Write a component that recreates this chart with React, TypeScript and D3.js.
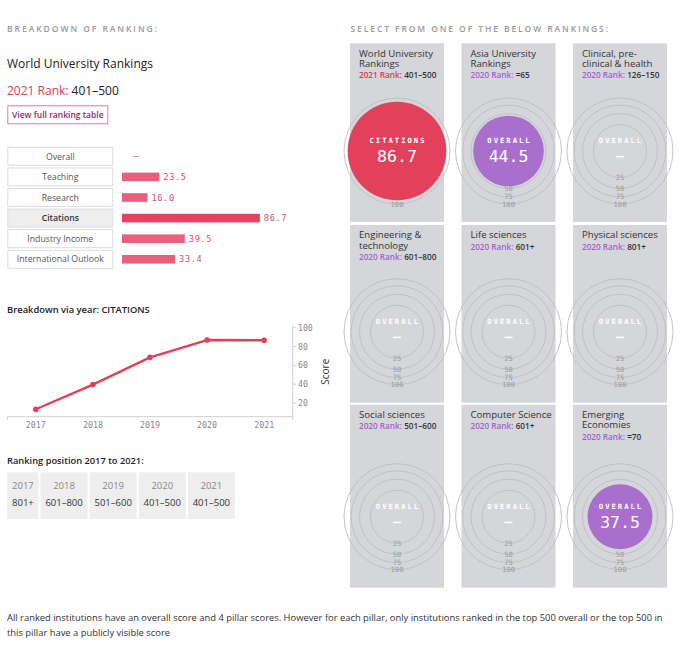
import React from 'react';
import * as d3 from 'd3';

// ---------- data ----------
const pillarNames = ['Overall', 'Teaching', 'Research', 'Citations', 'Industry Income', 'International Outlook'];
const pillarScores: (number | null)[] = [null, 23.5, 16.0, 86.7, 39.5, 33.4];
const selectedPillar = 'Citations';

const years = ['2017', '2018', '2019', '2020', '2021'];
const citationsByYear = [13.3, 39.5, 68.5, 86.9, 86.7];
const scoreTicks = [20, 40, 60, 80, 100];
const rankByYear = ['801+', '601–800', '501–600', '401–500', '401–500'];

const rankingTitles = [
  ['World University', 'Rankings'],
  ['Asia University', 'Rankings'],
  ['Clinical, pre-', 'clinical & health'],
  ['Engineering &', 'technology'],
  ['Life sciences'],
  ['Physical sciences'],
  ['Social sciences'],
  ['Computer Science'],
  ['Emerging', 'Economies'],
];
const rankingYears = ['2021', '2020', '2020', '2020', '2020', '2020', '2020', '2020', '2020'];
const rankingRanks = ['401–500', '=65', '126–150', '601–800', '601+', '801+', '501–600', '601+', '=70'];
const rankingMetrics = ['CITATIONS', 'OVERALL', 'OVERALL', 'OVERALL', 'OVERALL', 'OVERALL', 'OVERALL', 'OVERALL', 'OVERALL'];
const rankingScores: (number | null)[] = [86.7, 44.5, null, null, null, null, null, null, 37.5];
const ringLevels = [25, 50, 75, 100];

// ---------- style ----------
const SANS = "'Open Sans', sans-serif";
const MONO = "'DejaVu Sans Mono', monospace";
const RED = '#e3405b';
const PURPLE = '#a96fcd';
const PANEL = '#d4d6da';

// ---------- layout ----------
const W = 682;
const H = 645;
const rowTops = [43.3, 225, 404.7];
const rowBottoms = [222, 402.7, 587.7];

export default function App() {
  // bar chart
  const yBand = d3.scaleBand<string>().domain(pillarNames).range([147.3, 268.3]).paddingInner(0.126);
  const xBar = d3.scaleLinear().domain([0, 100]).range([122, 281]);

  // line chart
  const xLine = d3.scalePoint<string>().domain(years).range([7.3, 292.7]).padding(0.5);
  const yLine = d3.scaleLinear().domain([5.4, 100]).range([416.7, 327.7]);
  const linePath = d3
    .line<number>()
    .x((_, i) => xLine(years[i]) as number)
    .y((d) => yLine(d))(citationsByYear) as string;

  // ranking panels
  const colBand = d3.scaleBand<number>().domain([0, 1, 2]).range([350, 667]).paddingInner(0.157);
  const rScale = d3.scaleSqrt().domain([0, 100]).range([0, 53]);

  // ranking position cells
  let cx = 7.3;
  const cells = years.map((y, i) => {
    const w = Math.max(y.length, rankByYear[i].length) * 5.3 + 10;
    const c = { x: cx, w, year: y, rank: rankByYear[i] };
    cx += w + 2;
    return c;
  });

  return (
    <div style={{ position: 'absolute', left: 0, top: 0 }}>
      <svg width={W} height={H} style={{ display: 'block', background: '#fff' }}>
        {/* headers */}
        <text x={7} y={31.5} fontFamily={SANS} fontSize={8.5} fill="#999" letterSpacing={1.95} fontWeight={600}>
          BREAKDOWN OF RANKING:
        </text>
        <text x={350.5} y={31.5} fontFamily={SANS} fontSize={8.5} fill="#999" letterSpacing={1.9} fontWeight={600}>
          SELECT FROM ONE OF THE BELOW RANKINGS:
        </text>

        <text x={7} y={68.3} fontFamily={SANS} fontSize={12} fill="#222">
          World University Rankings
        </text>
        <text x={7} y={95.3} fontFamily={SANS} fontSize={12}>
          <tspan fill="#e2394f">2021 Rank:</tspan>
          <tspan fill="#222"> 401–500</tspan>
        </text>
        <rect x={7.8} y={105.8} width={100} height={18} fill="#fff" stroke="#c982a8" strokeWidth={1} />
        <text x={57.8} y={118} textAnchor="middle" fontFamily={SANS} fontSize={8.5} fontWeight={600} fill="#8c2a6c">
          View full ranking table
        </text>

        {/* bar breakdown */}
        {pillarNames.map((name, i) => {
          const y0 = yBand(name) as number;
          const bw = yBand.bandwidth();
          const cy = y0 + bw / 2;
          const v = pillarScores[i];
          const sel = name === selectedPillar;
          return (
            <g key={name}>
              <rect x={7.8} y={y0} width={105} height={bw} fill={sel ? '#eeeeee' : '#fff'} stroke="#dcdcdc" />
              <text
                x={60.3}
                y={cy + 3.2}
                textAnchor="middle"
                fontFamily={SANS}
                fontSize={8.7}
                fontWeight={sel ? 600 : 400}
                fill={sel ? '#333' : '#555'}
              >
                {name}
              </text>
              {v !== null ? (
                <>
                  <rect
                    x={xBar(0)}
                    y={cy - 4.3}
                    width={xBar(v) - xBar(0)}
                    height={8.6}
                    fill={sel ? '#e3435f' : '#e9607d'}
                  />
                  <text x={xBar(v) + 4} y={cy + 3} fontFamily={MONO} fontSize={8.7} fill="#d9506e" letterSpacing={0.6}>
                    {v.toFixed(1)}
                  </text>
                </>
              ) : (
                <text x={xBar(0) + 14} y={cy + 2.5} textAnchor="middle" fontFamily={MONO} fontSize={8} fill="#d9506e">
                  –
                </text>
              )}
            </g>
          );
        })}

        {/* line chart */}
        <text x={7} y={312.8} fontFamily={SANS} fontSize={9.4} fontWeight={600} fill="#222">
          Breakdown via year: CITATIONS
        </text>
        <line x1={7.3} x2={292.7} y1={416.7} y2={416.7} stroke="#cfcfcf" />
        <line x1={7.3} x2={7.3} y1={416.7} y2={420} stroke="#cfcfcf" />
        <line x1={292.7} x2={292.7} y1={325} y2={420} stroke="#cfcfcf" />
        {scoreTicks.map((t) => (
          <g key={t}>
            <line x1={292.7} x2={296} y1={yLine(t)} y2={yLine(t)} stroke="#cfcfcf" />
            <text x={298} y={yLine(t) + 3} fontFamily={MONO} fontSize={8.2} fill="#888">
              {t}
            </text>
          </g>
        ))}
        {years.map((y) => (
          <text key={y} x={xLine(y)} y={428.3} textAnchor="middle" fontFamily={MONO} fontSize={8.3} fill="#888">
            {y}
          </text>
        ))}
        <text
          transform="translate(325,371.7) rotate(-90)"
          textAnchor="middle"
          dy={3.5}
          fontFamily={SANS}
          fontSize={10}
          fill="#333"
        >
          Score
        </text>
        <path d={linePath} fill="none" stroke="#e0405a" strokeWidth={2.4} strokeLinejoin="round" />
        {citationsByYear.map((v, i) => (
          <circle key={i} cx={xLine(years[i])} cy={yLine(v)} r={2.8} fill="#e0405a" />
        ))}

        {/* ranking positions */}
        <text x={7} y={464} fontFamily={SANS} fontSize={9.3} fontWeight={600} fill="#222">
          Ranking position 2017 to 2021:
        </text>
        {cells.map((c, i) => (
          <g key={i}>
            <rect x={c.x} y={472.3} width={c.w} height={46.7} fill="#eeeeee" />
            <text x={c.x + c.w / 2} y={489} textAnchor="middle" fontFamily={SANS} fontSize={9.5} fill="#888">
              {c.year}
            </text>
            <text x={c.x + c.w / 2} y={506} textAnchor="middle" fontFamily={SANS} fontSize={9.5} fill="#333">
              {c.rank}
            </text>
          </g>
        ))}

        {/* ranking panels */}
        {rankingTitles.map((lines, i) => {
          const col = i % 3;
          const row = Math.floor(i / 3);
          const x0 = colBand(col) as number;
          const pw = colBand.bandwidth();
          const top = rowTops[row];
          const bottom = rowBottoms[row];
          const ccx = x0 + pw / 2;
          const ccy = bottom - 71;
          const score = rankingScores[i];
          const rankColor = i === 0 ? '#e2394f' : '#a35fcf';
          const fill = i === 0 ? RED : PURPLE;
          const lineGap = 10.2;
          const lastBase = top + 13.3 + (lines.length - 1) * lineGap;
          return (
            <g key={i}>
              <rect x={x0} y={top} width={pw} height={bottom - top} fill={PANEL} />
              {lines.map((l, k) => (
                <text key={k} x={x0 + 9} y={top + 13.3 + k * lineGap} fontFamily={SANS} fontSize={9.6} fill="#333">
                  {l}
                </text>
              ))}
              <text x={x0 + 9} y={lastBase + 11.3} fontFamily={SANS} fontSize={8.2} fontWeight={600}>
                <tspan fill={rankColor}>{rankingYears[i]} Rank:</tspan>
                <tspan fill="#333"> {rankingRanks[i]}</tspan>
              </text>
              {ringLevels.map((lv) => (
                <circle key={lv} cx={ccx} cy={ccy} r={rScale(lv)} fill="none" stroke="#bcbec2" strokeWidth={0.9} />
              ))}
              {ringLevels.map((lv) => (
                <text
                  key={'t' + lv}
                  x={ccx}
                  y={ccy + rScale(lv) + 2.5}
                  textAnchor="middle"
                  fontFamily={MONO}
                  fontSize={7.2}
                  fill="#9a9a9a"
                >
                  {lv}
                </text>
              ))}
              {score !== null && <circle cx={ccx} cy={ccy} r={rScale(score)} fill={fill} />}
              <text
                x={ccx + 1}
                y={ccy - 8}
                textAnchor="middle"
                fontFamily={MONO}
                fontSize={7.2}
                fontWeight={700}
                letterSpacing={2}
                fill="#fff"
              >
                {rankingMetrics[i]}
              </text>
              {score !== null ? (
                <text x={ccx} y={ccy + 11.3} textAnchor="middle" fontFamily={MONO} fontSize={16.5} fill="#fff">
                  {score.toFixed(1)}
                </text>
              ) : (
                <line x1={ccx - 4} x2={ccx + 4} y1={ccy + 5.7} y2={ccy + 5.7} stroke="#fff" strokeWidth={1.5} />
              )}
            </g>
          );
        })}

        {/* footer */}
        <text x={7} y={620.5} fontFamily={SANS} fontSize={9.4} fill="#333">
          All ranked institutions have an overall score and 4 pillar scores. However for each pillar, only institutions ranked in the top 500 overall or the top 500 in
        </text>
        <text x={7} y={636} fontFamily={SANS} fontSize={9.4} fill="#333">
          this pillar have a publicly visible score
        </text>
      </svg>
    </div>
  );
}
